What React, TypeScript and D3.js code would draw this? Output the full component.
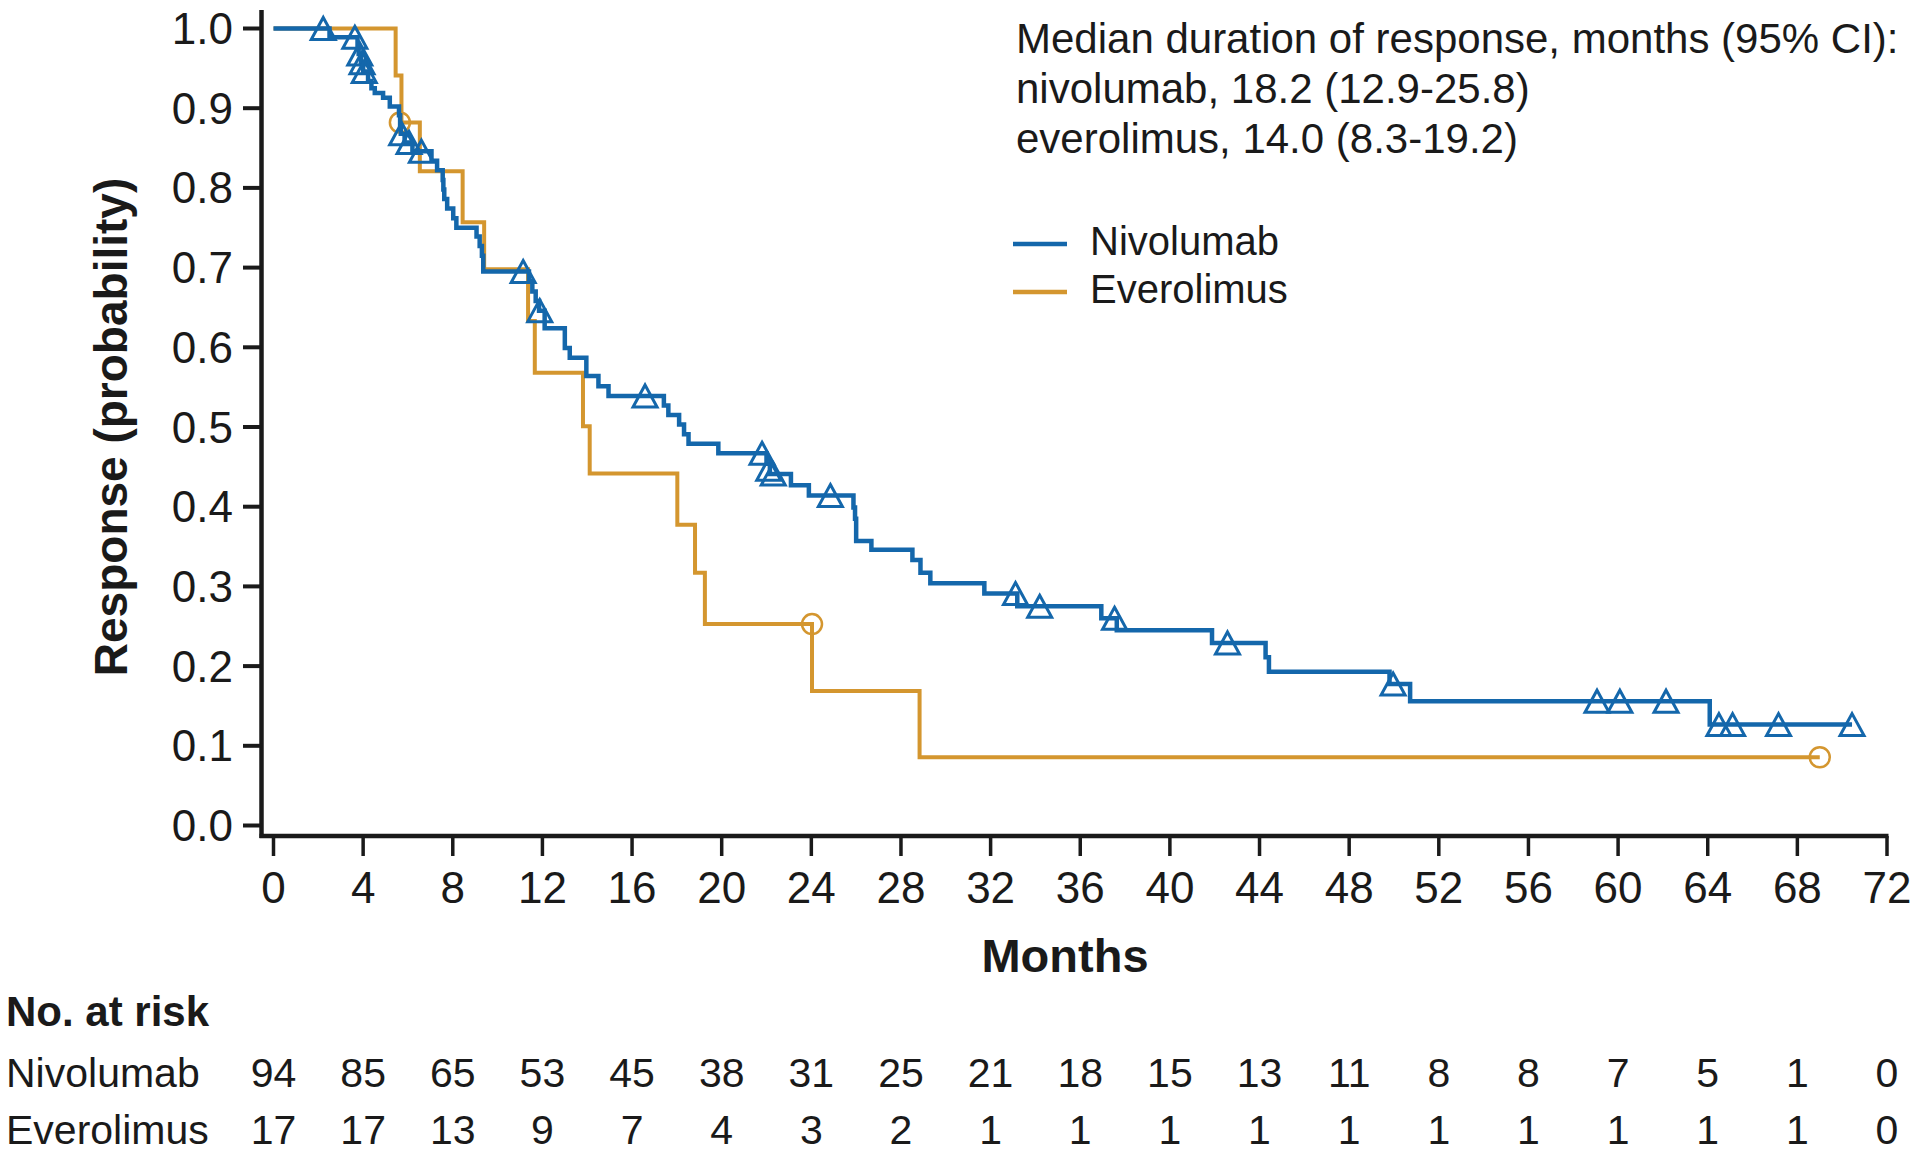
import React from "react";
import * as d3 from "d3";

// Kaplan-Meier steps: [month, probability after the drop]
const nivoSteps: [number, number][] = [
  [0, 1], [2.5, 0.989], [3.75, 0.978], [3.8, 0.968], [3.9, 0.957], [4.0, 0.946],
  [4.22, 0.934], [4.37, 0.925], [4.52, 0.919], [4.89, 0.913], [5.19, 0.902],
  [5.6, 0.891], [5.65, 0.879], [5.68, 0.868], [5.85, 0.857], [6.2, 0.846],
  [7.05, 0.834], [7.3, 0.822], [7.55, 0.81], [7.58, 0.798], [7.62, 0.786],
  [7.75, 0.774], [8.02, 0.762], [8.16, 0.75], [9.06, 0.739], [9.2, 0.727],
  [9.3, 0.715], [9.36, 0.695], [11.4, 0.683], [11.55, 0.67], [11.7, 0.658],
  [11.85, 0.646], [12.1, 0.624], [13.0, 0.599], [13.22, 0.587], [13.96, 0.564],
  [14.5, 0.551], [14.95, 0.539], [17.42, 0.527], [17.62, 0.515], [18.1, 0.503],
  [18.32, 0.491], [18.52, 0.479], [19.85, 0.467], [22.0, 0.454], [22.15, 0.441],
  [23.09, 0.427], [23.89, 0.414], [25.88, 0.399], [25.95, 0.385], [26.0, 0.357],
  [26.68, 0.346], [28.51, 0.333], [28.87, 0.317], [29.31, 0.304], [31.72, 0.291],
  [33.19, 0.275], [36.94, 0.26], [37.63, 0.245], [41.88, 0.229], [44.27, 0.211],
  [44.42, 0.193], [49.8, 0.1775], [50.72, 0.156], [64.09, 0.1266], [70.44, 0.1266],
];
const nivoCensored: [number, number][] = [
  [2.22, 1], [3.63, 0.989], [3.85, 0.968], [3.95, 0.957], [4.05, 0.946],
  [5.72, 0.868], [6.05, 0.857], [6.6, 0.846], [11.14, 0.695], [11.88, 0.646],
  [16.58, 0.539], [21.8, 0.467], [22.1, 0.447], [22.3, 0.441], [24.85, 0.414],
  [33.11, 0.291], [34.19, 0.275], [37.53, 0.26], [42.57, 0.229], [49.96, 0.1775],
  [59.06, 0.156], [60.08, 0.156], [62.14, 0.156], [64.5, 0.1266], [65.11, 0.1266],
  [67.16, 0.1266], [70.44, 0.1266],
];

const everoSteps: [number, number][] = [
  [0, 1], [5.45, 0.941], [5.71, 0.882], [6.53, 0.821], [8.44, 0.757], [9.4, 0.698],
  [11.36, 0.633], [11.66, 0.568], [13.81, 0.501], [14.11, 0.4416], [18.02, 0.3775],
  [18.81, 0.317], [19.25, 0.2527], [24.03, 0.1687], [28.83, 0.0856], [69.0, 0.0856],
];
const everoCensored: [number, number][] = [
  [5.64, 0.882], [24.03, 0.2527], [69.0, 0.0856],
];

const monthTicks = [0, 4, 8, 12, 16, 20, 24, 28, 32, 36, 40, 44, 48, 52, 56, 60, 64, 68, 72];
const probTicks = [0, 0.1, 0.2, 0.3, 0.4, 0.5, 0.6, 0.7, 0.8, 0.9, 1.0];
const nivoAtRisk = [94, 85, 65, 53, 45, 38, 31, 25, 21, 18, 15, 13, 11, 8, 8, 7, 5, 1, 0];
const everoAtRisk = [17, 17, 13, 9, 7, 4, 3, 2, 1, 1, 1, 1, 1, 1, 1, 1, 1, 1, 0];

const headerLines = [
  "Median duration of response, months (95% CI):",
  "nivolumab, 18.2 (12.9-25.8)",
  "everolimus, 14.0 (8.3-19.2)",
];

const BLUE = "#1467ab";
const GOLD = "#d4962f";
const INK = "#1a1a1a";
const FONT = "'Liberation Sans', Arial, Helvetica, sans-serif";

const W = 1920;
const H = 1156;

export default function App() {
  const x = d3.scaleLinear().domain([0, 72]).range([273.5, 1887]);
  const y = d3.scaleLinear().domain([0, 1]).range([825.5, 28.5]);

  const step = d3
    .line<[number, number]>()
    .x((d) => x(d[0]))
    .y((d) => y(d[1]))
    .curve(d3.curveStepAfter);

  const tri = (cx: number, cy: number) => {
    const w = 24;
    const h = 22;
    return `M${cx},${cy - h / 2}L${cx + w / 2},${cy + h / 2}L${cx - w / 2},${cy + h / 2}Z`;
  };

  const axisX = 261.5;
  const axisY = 836;
  const rowNivo = 1087;
  const rowEvero = 1144;

  return (
    <svg
      width={W}
      height={H}
      viewBox={`0 0 ${W} ${H}`}
      style={{ position: "absolute", left: 0, top: 0, background: "#fff" }}
      fontFamily={FONT}
    >
      <rect width={W} height={H} fill="#fff" />

      {/* axes */}
      <line x1={axisX} x2={axisX} y1={10} y2={axisY + 2} stroke={INK} strokeWidth={4.5} />
      <line x1={axisX - 2} x2={x(72) + 1.5} y1={axisY} y2={axisY} stroke={INK} strokeWidth={4.5} />

      {probTicks.map((t) => (
        <g key={`py${t}`}>
          <line x1={243} x2={axisX} y1={y(t)} y2={y(t)} stroke={INK} strokeWidth={4} />
          <text x={233} y={y(t) + 15.5} textAnchor="end" fontSize={44} fill={INK}>
            {t.toFixed(1)}
          </text>
        </g>
      ))}

      {monthTicks.map((m) => (
        <g key={`mx${m}`}>
          <line x1={x(m)} x2={x(m)} y1={axisY} y2={856} stroke={INK} strokeWidth={3.5} />
          <text x={x(m)} y={903} textAnchor="middle" fontSize={44} fill={INK}>
            {m}
          </text>
        </g>
      ))}

      <text
        transform="translate(127,427) rotate(-90)"
        textAnchor="middle"
        fontSize={46}
        fontWeight="bold"
        fill={INK}
      >
        Response (probability)
      </text>
      <text x={1065} y={972} textAnchor="middle" fontSize={47} fontWeight="bold" fill={INK}>
        Months
      </text>

      {/* curves */}
      <path d={step(everoSteps) ?? ""} fill="none" stroke={GOLD} strokeWidth={4} />
      {everoCensored.map((d, i) => (
        <circle key={`ec${i}`} cx={x(d[0])} cy={y(d[1])} r={10} fill="none" stroke={GOLD} strokeWidth={2.5} />
      ))}
      <path d={step(nivoSteps) ?? ""} fill="none" stroke={BLUE} strokeWidth={4.5} />
      {nivoCensored.map((d, i) => (
        <path key={`nc${i}`} d={tri(x(d[0]), y(d[1]))} fill="none" stroke={BLUE} strokeWidth={3} strokeLinejoin="miter" />
      ))}

      {/* header text */}
      {headerLines.map((s, i) => (
        <text key={`h${i}`} x={1016} y={53 + i * 50} fontSize={42} fill={INK}>
          {s}
        </text>
      ))}

      {/* legend */}
      <line x1={1013} x2={1067} y1={244} y2={244} stroke={BLUE} strokeWidth={4.5} />
      <text x={1090} y={255} fontSize={40} fill={INK}>Nivolumab</text>
      <line x1={1013} x2={1067} y1={292} y2={292} stroke={GOLD} strokeWidth={4.5} />
      <text x={1090} y={303} fontSize={40} fill={INK}>Everolimus</text>

      {/* number at risk */}
      <text x={6} y={1026} fontSize={42} fontWeight="bold" fill={INK}>No. at risk</text>
      <text x={6} y={rowNivo} fontSize={41} fill={INK}>Nivolumab</text>
      <text x={6} y={rowEvero} fontSize={41} fill={INK}>Everolimus</text>
      {monthTicks.map((m, i) => (
        <g key={`ar${m}`}>
          <text x={x(m)} y={rowNivo} textAnchor="middle" fontSize={41} fill={INK}>
            {nivoAtRisk[i]}
          </text>
          <text x={x(m)} y={rowEvero} textAnchor="middle" fontSize={41} fill={INK}>
            {everoAtRisk[i]}
          </text>
        </g>
      ))}
    </svg>
  );
}
